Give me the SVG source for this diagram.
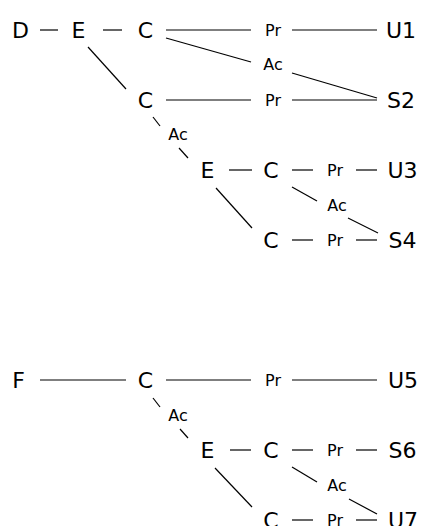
<svg xmlns="http://www.w3.org/2000/svg" width="422" height="526" viewBox="0 0 422 526">
<style>
.n{font-family:"DejaVu Sans",sans-serif;font-size:22px;fill:#000;text-anchor:middle}
.l{font-family:"DejaVu Sans",sans-serif;font-size:16px;fill:#000;text-anchor:middle}
.c line{stroke:#000;stroke-width:1.2;fill:none}
</style>
<rect width="422" height="526" fill="#fff"/>
<g id="connectors" class="c">
<line x1="40" y1="30" x2="58" y2="30"/>
<line x1="103" y1="30" x2="122" y2="30"/>
<line x1="166" y1="30" x2="251" y2="30"/>
<line x1="292" y1="30" x2="377" y2="30"/>
<line x1="166" y1="38" x2="251" y2="62"/>
<line x1="292" y1="73" x2="377" y2="98"/>
<line x1="88" y1="47" x2="126" y2="89"/>
<line x1="166" y1="100" x2="251" y2="100"/>
<line x1="292" y1="100" x2="377" y2="100"/>
<line x1="153" y1="117" x2="160" y2="126"/>
<line x1="179" y1="148" x2="188" y2="158"/>
<line x1="229" y1="170" x2="252" y2="170"/>
<line x1="292" y1="170" x2="313" y2="170"/>
<line x1="356" y1="170" x2="377" y2="170"/>
<line x1="292" y1="187" x2="317" y2="201"/>
<line x1="348" y1="218" x2="378" y2="233"/>
<line x1="216" y1="188" x2="252" y2="228"/>
<line x1="292" y1="240" x2="313" y2="240"/>
<line x1="356" y1="240" x2="377" y2="240"/>
<line x1="40" y1="380" x2="126" y2="380"/>
<line x1="166" y1="380" x2="251" y2="380"/>
<line x1="292" y1="380" x2="377" y2="380"/>
<line x1="153" y1="398" x2="160" y2="407"/>
<line x1="180" y1="429" x2="188" y2="438"/>
<line x1="230" y1="450" x2="251" y2="450"/>
<line x1="292" y1="450" x2="313" y2="450"/>
<line x1="356" y1="450" x2="377" y2="450"/>
<line x1="292" y1="467" x2="317" y2="482"/>
<line x1="349" y1="499" x2="377" y2="514"/>
<line x1="215" y1="468" x2="252" y2="507"/>
<line x1="292" y1="520" x2="313" y2="520"/>
<line x1="356" y1="520" x2="377" y2="520"/>
<text class="l" x="273" y="35.8">Pr</text>
<text class="l" x="273" y="69.8">Ac</text>
<text class="l" x="273" y="105.8">Pr</text>
<text class="l" x="178" y="139.8">Ac</text>
<text class="l" x="335" y="175.8">Pr</text>
<text class="l" x="337" y="210.8">Ac</text>
<text class="l" x="335" y="245.8">Pr</text>
<text class="l" x="273" y="385.8">Pr</text>
<text class="l" x="178" y="420.8">Ac</text>
<text class="l" x="335" y="455.8">Pr</text>
<text class="l" x="337" y="490.8">Ac</text>
<text class="l" x="335" y="525.8">Pr</text>
</g>
<g id="D"><text class="n" x="20.5" y="38">D</text></g>
<g id="E1"><text class="n" x="78.5" y="38">E</text></g>
<g id="C1"><text class="n" x="145.5" y="38">C</text></g>
<g id="U1"><text class="n" x="401" y="38">U1</text></g>
<g id="C2"><text class="n" x="145.5" y="108">C</text></g>
<g id="S2"><text class="n" x="401" y="108">S2</text></g>
<g id="E2"><text class="n" x="207.5" y="178">E</text></g>
<g id="C3"><text class="n" x="271" y="178">C</text></g>
<g id="U3"><text class="n" x="402.5" y="178">U3</text></g>
<g id="C4"><text class="n" x="271" y="248">C</text></g>
<g id="S4"><text class="n" x="402.5" y="248">S4</text></g>
<g id="F"><text class="n" x="18.5" y="388">F</text></g>
<g id="C5"><text class="n" x="145.5" y="388">C</text></g>
<g id="U5"><text class="n" x="403" y="388">U5</text></g>
<g id="E3"><text class="n" x="207.5" y="458">E</text></g>
<g id="C6"><text class="n" x="271" y="458">C</text></g>
<g id="S6"><text class="n" x="402.5" y="458">S6</text></g>
<g id="C7"><text class="n" x="271" y="528">C</text></g>
<g id="U7"><text class="n" x="403" y="528">U7</text></g>
</svg>
